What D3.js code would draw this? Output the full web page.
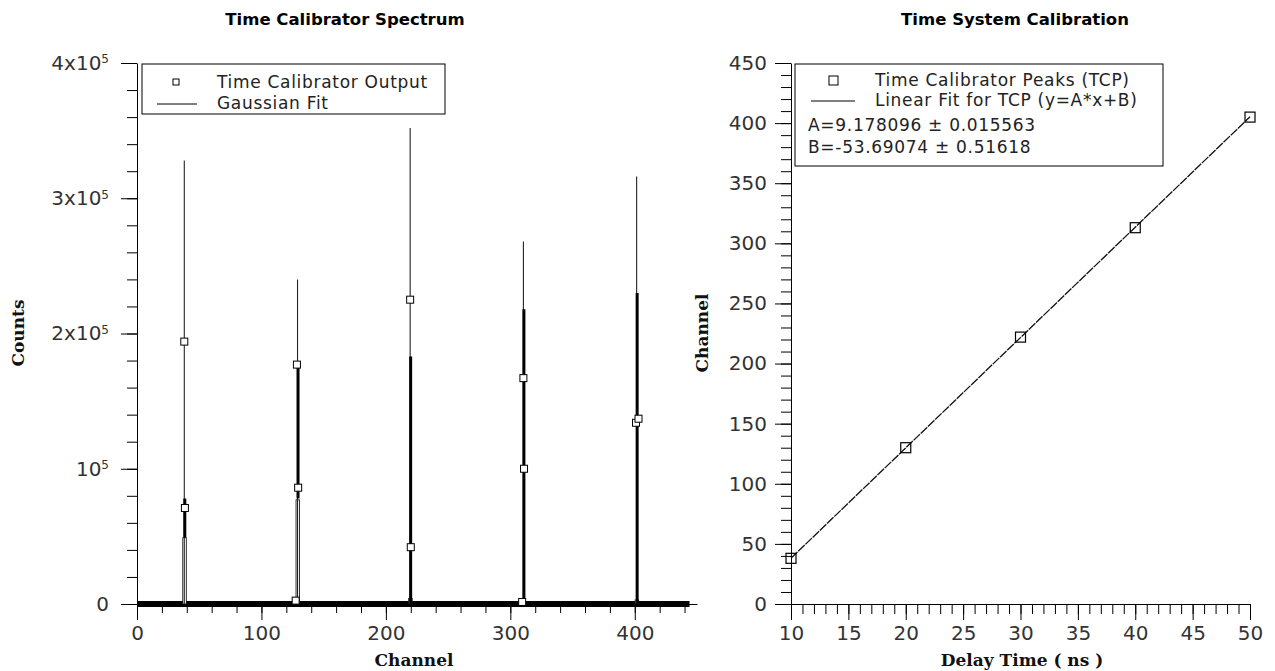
<!DOCTYPE html>
<html>
<head>
<meta charset="utf-8">
<script src="https://cdn.jsdelivr.net/npm/d3@7"></script>
<style>
body { margin: 0; background: #fff; }
svg { display: block; }
.tick text { font-family: "DejaVu Sans", sans-serif; }
</style>
</head>
<body>
<svg id="chart" width="1275" height="671"></svg>
<script>
// ---- left: spectrum ----
const peakChannels = [38, 129, 219.5, 310.5, 401.5];
const fitHeights = [328000, 240000, 352000, 268000, 316000];   // gaussian fit tops
const traceTops = [78000, 177000, 183000, 218000, 230000];     // thick data trace
const traceBottoms = [49000, 78000, 0, 0, 0];
const barTops = [49000, 77000, 4000, 2000, 3000];              // open bars at the base
const pointChannels = [38, 38.5, 128.5, 129.5, 219.5, 220, 310.5, 311, 401, 403, 127.5, 309.5];
const pointCounts = [194000, 71000, 177000, 86000, 225000, 42000, 167000, 100000, 134000, 137000, 2500, 1500];
const baselineChannels = [0, 444];
const countTicks = [0, 100000, 200000, 300000, 400000];
const countMinor = d3.range(0, 400001, 20000);
const channelTicks = [0, 100, 200, 300, 400];
const channelMinor = d3.range(0, 441, 20);

// ---- right: calibration ----
const delayTimes = [10, 20, 30, 40, 50];
const peakPositions = [38, 130, 222, 313, 405];
const fitA = 9.178096, fitB = -53.69074;
const delayTicks = [10, 15, 20, 25, 30, 35, 40, 45, 50];
const delayMinor = d3.range(10, 51, 1);
const chanTicks = [0, 50, 100, 150, 200, 250, 300, 350, 400, 450];
const chanMinor = d3.range(0, 451, 10);

const svg = d3.select("#chart");
const legendFont = { family: "DejaVu Sans", size: 17, spacing: 0.7 };

function drawAxis(g, axisMaker, scale, major, minor, fmt, majorLen, minorLen, pad) {
  g.append("g").call(axisMaker(scale).tickValues(minor).tickSize(minorLen).tickSizeOuter(0).tickFormat(""))
    .call(s => s.select(".domain").remove());
  return g.append("g").call(axisMaker(scale).tickValues(major).tickSize(majorLen).tickSizeOuter(0).tickPadding(pad).tickFormat(fmt));
}

function legendText(sel) {
  sel.attr("font-family", legendFont.family).attr("font-size", legendFont.size)
    .attr("letter-spacing", legendFont.spacing).attr("fill", "#222");
}

function axisTitle(sel) {
  sel.attr("font-family", "DejaVu Serif").attr("font-weight", "bold").attr("font-size", 17).attr("fill", "#111");
}

// ===== left chart =====
const xL = d3.scaleLinear().domain([0, 450]).range([137, 697]);
const yL = d3.scaleLinear().domain([0, 400000]).range([604, 63]);
const gL = svg.append("g");

gL.append("text").attr("x", 345).attr("y", 25).attr("text-anchor", "middle")
  .attr("font-family", "DejaVu Sans").attr("font-weight", "bold").attr("font-size", 16.5)
  .text("Time Calibrator Spectrum");

const axL = drawAxis(gL.append("g").attr("transform", `translate(${xL(0)},0)`), d3.axisLeft, yL,
  countTicks, countMinor, () => "", 16, 10, 12);
axL.selectAll(".tick text").each(function(d) {
  const t = d3.select(this).attr("font-family", "Liberation Mono").attr("font-size", 20).attr("fill", "#333");
  if (d === 0) { t.text("0"); return; }
  const m = d / 100000;
  t.append("tspan").text(m === 1 ? "10" : m + "x10");
  t.append("tspan").attr("dy", "-0.55em").attr("font-size", 12).text("5");
});
const bxL = drawAxis(gL.append("g").attr("transform", `translate(0,${yL(0)})`), d3.axisBottom, xL,
  channelTicks, channelMinor, d3.format("d"), 16, 9, 6);
bxL.selectAll(".tick text").attr("font-size", 20).attr("fill", "#333");

// thick baseline of zero-count channels
gL.append("line").attr("x1", xL(baselineChannels[0])).attr("x2", xL(baselineChannels[1]))
  .attr("y1", yL(0)).attr("y2", yL(0)).attr("stroke", "#000").attr("stroke-width", 6);

peakChannels.forEach((c, i) => {
  // open bar at the base
  gL.append("rect").attr("x", xL(c) - 1.5).attr("y", yL(barTops[i]))
    .attr("width", 3.5).attr("height", yL(0) - yL(barTops[i]))
    .attr("fill", "#fff").attr("stroke", "#000").attr("stroke-width", 0.8);
  // gaussian fit
  gL.append("path").attr("d", d3.line()([[xL(c), yL(0)], [xL(c), yL(fitHeights[i])]]))
    .attr("stroke", "#222").attr("stroke-width", 1.1).attr("fill", "none");
  // thick data trace
  gL.append("line").attr("x1", xL(c) + 0.5).attr("x2", xL(c) + 0.5)
    .attr("y1", yL(traceBottoms[i])).attr("y2", yL(traceTops[i]))
    .attr("stroke", "#000").attr("stroke-width", 3);
});

gL.selectAll("rect.pt").data(pointChannels).join("rect").attr("class", "pt")
  .attr("x", (d) => xL(d) - 3.5).attr("y", (d, i) => yL(pointCounts[i]) - 3.5)
  .attr("width", 7).attr("height", 7).attr("fill", "#fff").attr("stroke", "#000").attr("stroke-width", 1);

// legend left
const lgL = gL.append("g");
lgL.append("rect").attr("x", 142).attr("y", 64).attr("width", 303).attr("height", 50)
  .attr("fill", "#fff").attr("stroke", "#000");
lgL.append("rect").attr("x", 173).attr("y", 79).attr("width", 6).attr("height", 6)
  .attr("fill", "#fff").attr("stroke", "#000");
lgL.append("line").attr("x1", 157).attr("x2", 197).attr("y1", 104).attr("y2", 104).attr("stroke", "#000");
lgL.selectAll("text").data(["Time Calibrator Output", "Gaussian Fit"]).join("text")
  .attr("x", 217).attr("y", (d, i) => 88 + i * 21).call(legendText).text(d => d);

gL.append("text").attr("x", 414).attr("y", 666).attr("text-anchor", "middle").call(axisTitle).text("Channel");
gL.append("text").attr("transform", "translate(24,333) rotate(-90)").attr("text-anchor", "middle")
  .call(axisTitle).text("Counts");

// ===== right chart =====
const xR = d3.scaleLinear().domain([10, 50]).range([791, 1250]);
const yR = d3.scaleLinear().domain([0, 450]).range([604, 63]);
const gR = svg.append("g");

gR.append("text").attr("x", 1015).attr("y", 25).attr("text-anchor", "middle")
  .attr("font-family", "DejaVu Sans").attr("font-weight", "bold").attr("font-size", 16.5)
  .text("Time System Calibration");

const ayR = drawAxis(gR.append("g").attr("transform", `translate(${xR(10)},0)`), d3.axisLeft, yR,
  chanTicks, chanMinor, d3.format("d"), 16, 10, 8);
ayR.selectAll(".tick text").attr("font-size", 20).attr("fill", "#333");
const axR = drawAxis(gR.append("g").attr("transform", `translate(0,${yR(0)})`), d3.axisBottom, xR,
  delayTicks, delayMinor, d3.format("d"), 16, 10, 6);
axR.selectAll(".tick text").attr("font-size", 20).attr("fill", "#333");

gR.append("path")
  .attr("d", d3.line().x(d => xR(d)).y(d => yR(fitA * d + fitB))([delayTimes[0], delayTimes[delayTimes.length - 1]]))
  .attr("stroke", "#111").attr("stroke-width", 1.3).attr("stroke-dasharray", "9,1").attr("fill", "none");

gR.selectAll("rect.pt").data(delayTimes).join("rect").attr("class", "pt")
  .attr("x", d => xR(d) - 5).attr("y", (d, i) => yR(peakPositions[i]) - 5)
  .attr("width", 10).attr("height", 10).attr("fill", "none").attr("stroke", "#000").attr("stroke-width", 1.2);

const lgR = gR.append("g");
lgR.append("rect").attr("x", 795).attr("y", 64).attr("width", 368).attr("height", 102)
  .attr("fill", "#fff").attr("stroke", "#000");
lgR.append("rect").attr("x", 829).attr("y", 76).attr("width", 9).attr("height", 9)
  .attr("fill", "#fff").attr("stroke", "#000");
lgR.append("line").attr("x1", 811).attr("x2", 855).attr("y1", 101).attr("y2", 101).attr("stroke", "#000");
const legR = ["Time Calibrator Peaks (TCP)", "Linear Fit for TCP (y=A*x+B)"];
lgR.selectAll("text.e").data(legR).join("text").attr("class", "e")
  .attr("x", 875).attr("y", (d, i) => 86 + i * 20).call(legendText).text(d => d);
const legStats = ["A=9.178096 \u00b1 0.015563", "B=-53.69074 \u00b1 0.51618"];
lgR.selectAll("text.s").data(legStats).join("text").attr("class", "s")
  .attr("x", 808).attr("y", (d, i) => 131 + i * 22).call(legendText).text(d => d);

gR.append("text").attr("x", 1022).attr("y", 666).attr("text-anchor", "middle").call(axisTitle).text("Delay Time ( ns )");
gR.append("text").attr("transform", "translate(708,333) rotate(-90)").attr("text-anchor", "middle")
  .call(axisTitle).text("Channel");
</script>
</body>
</html>
